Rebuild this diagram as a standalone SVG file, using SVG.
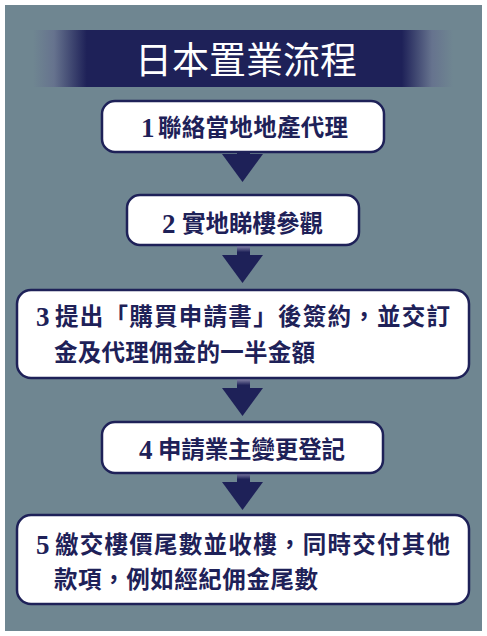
<svg xmlns="http://www.w3.org/2000/svg" width="487" height="636" viewBox="0 0 487 636">
<defs>
<linearGradient id="band" x1="33" y1="0" x2="453" y2="0" gradientUnits="userSpaceOnUse">
<stop offset="0" stop-color="#6f8691"/>
<stop offset="0.05" stop-color="#66738e"/>
<stop offset="0.128" stop-color="#1e2158"/>
<stop offset="0.878" stop-color="#1e2158"/>
<stop offset="0.95" stop-color="#66738e"/>
<stop offset="1" stop-color="#6f8691"/>
</linearGradient>
<linearGradient id="stem" x1="0" y1="0" x2="0" y2="1">
<stop offset="0" stop-color="#9a98b8"/>
<stop offset="0.6" stop-color="#1e2158"/>
</linearGradient>
<g id="arrow">
<rect x="237" y="0" width="13" height="12" fill="url(#stem)"/>
<polygon points="222,10 263,10 242.5,38" fill="#1e2158"/>
</g>
</defs>
<style>
.box{fill:#ffffff;stroke:#1e2158;stroke-width:2.5}
.t{font-family:"Noto Sans CJK TC","Noto Sans CJK SC",sans-serif;font-size:23.5px;font-weight:bold;fill:#1e2158}
.n{font-family:"Liberation Serif",serif;font-size:27px;font-weight:bold;fill:#1e2158}
.title{font-family:"Noto Sans CJK TC","Noto Sans CJK SC",sans-serif;font-size:37px;fill:#ffffff}
</style>
<rect x="0" y="0" width="487" height="636" fill="#ffffff"/>
<rect x="5" y="5" width="477" height="626" fill="#6f8691"/>
<g id="title">
<rect x="33" y="30" width="420" height="57" fill="url(#band)"/>
<text class="title" x="246" y="74" text-anchor="middle">日本置業流程</text>
</g>
<g id="connectors">
<use href="#arrow" transform="translate(0,144)"/>
<use href="#arrow" transform="translate(0,245)"/>
<use href="#arrow" transform="translate(0,378)"/>
<use href="#arrow" transform="translate(0,472)"/>
</g>
<g id="step1">
<rect class="box" x="102" y="101" width="282" height="51" rx="13"/>
<text class="n" x="141" y="137">1</text>
<text class="t" x="158" y="136" textLength="190" lengthAdjust="spacing">聯絡當地地產代理</text>
</g>
<g id="step2">
<rect class="box" x="127" y="195" width="232" height="50" rx="13"/>
<text class="n" x="162" y="233">2</text>
<text class="t" x="182" y="232" textLength="141" lengthAdjust="spacing">實地睇樓參觀</text>
</g>
<g id="step3">
<rect class="box" x="17" y="290" width="452" height="88" rx="14"/>
<text class="n" x="36" y="326">3</text>
<text class="t" x="55" y="325" textLength="395" lengthAdjust="spacing">提出「購買申請書」後簽約，並交訂</text>
<text class="t" x="54" y="361" textLength="261" lengthAdjust="spacing">金及代理佣金的一半金額</text>
</g>
<g id="step4">
<rect class="box" x="102" y="422" width="281" height="51" rx="13"/>
<text class="n" x="139" y="459">4</text>
<text class="t" x="158" y="458" textLength="187" lengthAdjust="spacing">申請業主變更登記</text>
</g>
<g id="step5">
<rect class="box" x="17" y="515" width="452" height="89" rx="14"/>
<text class="n" x="36" y="554">5</text>
<text class="t" x="55" y="553" textLength="395" lengthAdjust="spacing">繳交樓價尾數並收樓，同時交付其他</text>
<text class="t" x="54" y="588" textLength="264" lengthAdjust="spacing">款項，例如經紀佣金尾數</text>
</g>
</svg>
